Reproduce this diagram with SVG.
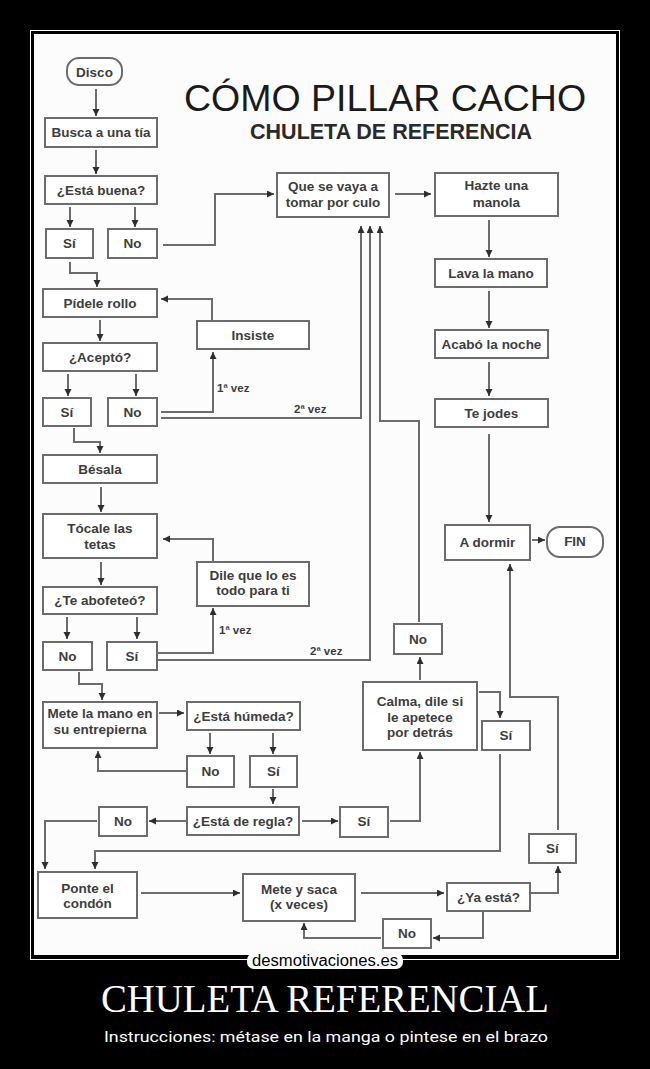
<svg xmlns="http://www.w3.org/2000/svg" width="650" height="1069" viewBox="0 0 650 1069">
<defs>
<marker id="ah" markerUnits="userSpaceOnUse" markerWidth="8" markerHeight="8" refX="7" refY="3.5" orient="auto">
<path d="M0,0 L7,3.5 L0,7 z" fill="#2e2e2e"/>
</marker>
<style>
.box{fill:#ffffff;stroke:#6c6c6c;stroke-width:2}
.t{font-family:"Liberation Sans",Arial,sans-serif;font-size:13.5px;font-weight:bold;fill:#3d3d3d;text-anchor:middle}
.lbl{font-family:"Liberation Sans",Arial,sans-serif;font-size:11.5px;font-weight:bold;fill:#3d3d3d}
.c{fill:none;stroke:#6c6c6c;stroke-width:2;marker-end:url(#ah)}
</style>
</defs>
<rect x="0" y="0" width="650" height="1069" fill="#000000"/>
<rect x="30.5" y="30.5" width="589" height="929" fill="none" stroke="#ffffff" stroke-width="1"/>
<rect x="34" y="34" width="582" height="921" fill="#fcfcfc"/>

<g id="title">
<text x="385" y="111" font-family="'Liberation Sans',Arial,sans-serif" font-size="37.5" fill="#1a1a1a" text-anchor="middle">CÓMO PILLAR CACHO</text>
<text x="391" y="139" font-family="'Liberation Sans',Arial,sans-serif" font-size="21.5" font-weight="bold" fill="#2a2a2a" text-anchor="middle">CHULETA DE REFERENCIA</text>
</g>

<g id="connectors">
<path class="c" d="M96,89 V116"/>
<path class="c" d="M96,150 V174"/>
<path class="c" d="M70,207 V227"/>
<path class="c" d="M135,207 V227"/>
<path class="c" d="M163,245 H215 V194 H274"/>
<path class="c" d="M70,262 V273 H97 V287"/>
<path class="c" d="M212,320 V299 H161"/>
<path class="c" d="M100,320 V341"/>
<path class="c" d="M68,374 V396"/>
<path class="c" d="M136,374 V396"/>
<path class="c" d="M161,412 H213 V352"/>
<path class="c" d="M161,418 H361 V226"/>
<path class="c" d="M74,428 V442 H100 V453"/>
<path class="c" d="M101,487 V512"/>
<path class="c" d="M213,561 V539 H163"/>
<path class="c" d="M101,562 V585"/>
<path class="c" d="M67,617 V639"/>
<path class="c" d="M137,617 V639"/>
<path class="c" d="M158,653 H213 V608"/>
<path class="c" d="M158,660 H370 V226"/>
<path class="c" d="M419,622 V421 H380 V226"/>
<path class="c" d="M79,672 V684 H102 V700"/>
<path class="c" d="M159,713 H184"/>
<path class="c" d="M210,733 V754"/>
<path class="c" d="M273,733 V754"/>
<path class="c" d="M186,771 H98 V751"/>
<path class="c" d="M273,789 V804"/>
<path class="c" d="M186,821 H149"/>
<path class="c" d="M302,821 H338"/>
<path class="c" d="M390,821 H420 V752"/>
<path class="c" d="M420,680 V657"/>
<path class="c" d="M479,692 H500 V718"/>
<path class="c" d="M500,754 V851 H95 V869"/>
<path class="c" d="M97,821 H45 V869"/>
<path class="c" d="M141,893 H240"/>
<path class="c" d="M361,893 H444"/>
<path class="c" d="M531,893 H558 V866"/>
<path class="c" d="M483,911 V938 H433"/>
<path class="c" d="M381,938 H304 V923"/>
<path class="c" d="M558,830 V697 H510 V564"/>
<path class="c" d="M489,434 V522"/>
<path class="c" d="M532,540 H545"/>
<path class="c" d="M395,194 H431"/>
<path class="c" d="M489,220 V257"/>
<path class="c" d="M489,291 V328"/>
<path class="c" d="M489,362 V396"/>
<text class="lbl" x="217" y="392">1ª vez</text>
<text class="lbl" x="294" y="413">2ª vez</text>
<text class="lbl" x="219" y="634">1ª vez</text>
<text class="lbl" x="310" y="655">2ª vez</text>
</g>

<g id="disco"><rect class="box" x="67" y="58" width="55" height="27" rx="12"/><text class="t" x="94.5" y="76.5">Disco</text></g>
<g id="busca"><rect class="box" x="45" y="118" width="112" height="29"/><text class="t" x="101" y="137">Busca a una tía</text></g>
<g id="buena"><rect class="box" x="45" y="176" width="112" height="28"/><text class="t" x="101" y="194.5">¿Está buena?</text></g>
<g id="buena-si"><rect class="box" x="46" y="229" width="47" height="29"/><text class="t" x="69.5" y="248">Sí</text></g>
<g id="buena-no"><rect class="box" x="108" y="229" width="49" height="29"/><text class="t" x="132.5" y="248">No</text></g>
<g id="pidele"><rect class="box" x="43" y="289" width="114" height="28"/><text class="t" x="100" y="307.5">Pídele rollo</text></g>
<g id="insiste"><rect class="box" x="197" y="321" width="112" height="28"/><text class="t" x="253" y="339.5">Insiste</text></g>
<g id="acepto"><rect class="box" x="43" y="343" width="114" height="28"/><text class="t" x="100" y="361.5">¿Aceptó?</text></g>
<g id="acepto-si"><rect class="box" x="43" y="398" width="48" height="28"/><text class="t" x="67" y="416.5">Sí</text></g>
<g id="acepto-no"><rect class="box" x="108" y="398" width="49" height="28"/><text class="t" x="132.5" y="416.5">No</text></g>
<g id="besala"><rect class="box" x="43" y="455" width="114" height="28"/><text class="t" x="100" y="473.5">Bésala</text></g>
<g id="tocale"><rect class="box" x="43" y="514" width="114" height="44"/><text class="t" x="100" y="533">Tócale las</text><text class="t" x="100" y="549">tetas</text></g>
<g id="dile"><rect class="box" x="197" y="562" width="112" height="44"/><text class="t" x="253" y="580">Dile que lo es</text><text class="t" x="253" y="595">todo para ti</text></g>
<g id="abofeteo"><rect class="box" x="43" y="587" width="114" height="27"/><text class="t" x="100" y="605">¿Te abofeteó?</text></g>
<g id="abof-no"><rect class="box" x="43" y="642" width="49" height="28"/><text class="t" x="67.5" y="660.5">No</text></g>
<g id="abof-si"><rect class="box" x="107" y="642" width="50" height="28"/><text class="t" x="132" y="660.5">Sí</text></g>
<g id="mete-mano"><rect class="box" x="43" y="702" width="114" height="46"/><text class="t" x="100" y="718">Mete la mano en</text><text class="t" x="100" y="734">su entrepierna</text></g>
<g id="humeda"><rect class="box" x="187" y="702" width="113" height="28"/><text class="t" x="243.5" y="720.5">¿Está húmeda?</text></g>
<g id="humeda-no"><rect class="box" x="187" y="756" width="47" height="31"/><text class="t" x="210.5" y="776">No</text></g>
<g id="humeda-si"><rect class="box" x="250" y="756" width="47" height="31"/><text class="t" x="273.5" y="776">Sí</text></g>
<g id="regla"><rect class="box" x="187" y="807" width="112" height="28"/><text class="t" x="243" y="825.5">¿Está de regla?</text></g>
<g id="regla-no"><rect class="box" x="99" y="807" width="48" height="29"/><text class="t" x="123" y="826">No</text></g>
<g id="regla-si"><rect class="box" x="340" y="807" width="48" height="30"/><text class="t" x="364" y="826">Sí</text></g>
<g id="calma"><rect class="box" x="363" y="682" width="114" height="68"/><text class="t" x="420" y="706">Calma, dile si</text><text class="t" x="420" y="721.5">le apetece</text><text class="t" x="420" y="737">por detrás</text></g>
<g id="calma-no"><rect class="box" x="394" y="624" width="48" height="30"/><text class="t" x="418" y="643.5">No</text></g>
<g id="calma-si"><rect class="box" x="482" y="721" width="48" height="29"/><text class="t" x="506" y="740">Sí</text></g>
<g id="ponte"><rect class="box" x="38" y="872" width="99" height="46"/><text class="t" x="87.5" y="893">Ponte el</text><text class="t" x="87.5" y="908">condón</text></g>
<g id="mete-saca"><rect class="box" x="243" y="874" width="112" height="47"/><text class="t" x="299" y="894">Mete y saca</text><text class="t" x="299" y="909">(x veces)</text></g>
<g id="ya-esta"><rect class="box" x="447" y="883" width="83" height="28"/><text class="t" x="488.5" y="901.5">¿Ya está?</text></g>
<g id="ya-no"><rect class="box" x="383" y="919" width="48" height="29"/><text class="t" x="407" y="938">No</text></g>
<g id="ya-si"><rect class="box" x="529" y="834" width="47" height="29"/><text class="t" x="552.5" y="853">Sí</text></g>
<g id="que-se-vaya"><rect class="box" x="277" y="173" width="112" height="44"/><text class="t" x="333" y="191">Que se vaya a</text><text class="t" x="333" y="207">tomar por culo</text></g>
<g id="hazte"><rect class="box" x="435" y="173" width="123" height="43"/><text class="t" x="496.5" y="190">Hazte una</text><text class="t" x="496.5" y="207">manola</text></g>
<g id="lava"><rect class="box" x="435" y="259" width="112" height="28"/><text class="t" x="491" y="277.5">Lava la mano</text></g>
<g id="acabo"><rect class="box" x="435" y="330" width="113" height="28"/><text class="t" x="491.5" y="348.5">Acabó la noche</text></g>
<g id="jodes"><rect class="box" x="435" y="399" width="113" height="28"/><text class="t" x="491.5" y="417.5">Te jodes</text></g>
<g id="dormir"><rect class="box" x="445" y="525" width="85" height="35"/><text class="t" x="487.5" y="547">A dormir</text></g>
<g id="fin"><rect class="box" x="547" y="527" width="56" height="30" rx="13"/><text class="t" x="575" y="546">FIN</text></g>

<g id="footer">
<rect x="247" y="953" width="156" height="16" rx="7" fill="#ffffff"/>
<text x="325" y="966" font-family="'Liberation Sans',Arial,sans-serif" font-size="16" fill="#000000" text-anchor="middle" textLength="146" lengthAdjust="spacingAndGlyphs">desmotivaciones.es</text>
<text x="325" y="1012" font-family="'Liberation Serif','Times New Roman',serif" font-size="41" fill="#ffffff" text-anchor="middle" textLength="448" lengthAdjust="spacingAndGlyphs">CHULETA REFERENCIAL</text>
<text x="326" y="1042" font-family="Roboto,'Liberation Sans',sans-serif" font-size="15.5" fill="#ffffff" text-anchor="middle" textLength="444" lengthAdjust="spacingAndGlyphs">Instrucciones: métase en la manga o pintese en el brazo</text>
</g>
</svg>
